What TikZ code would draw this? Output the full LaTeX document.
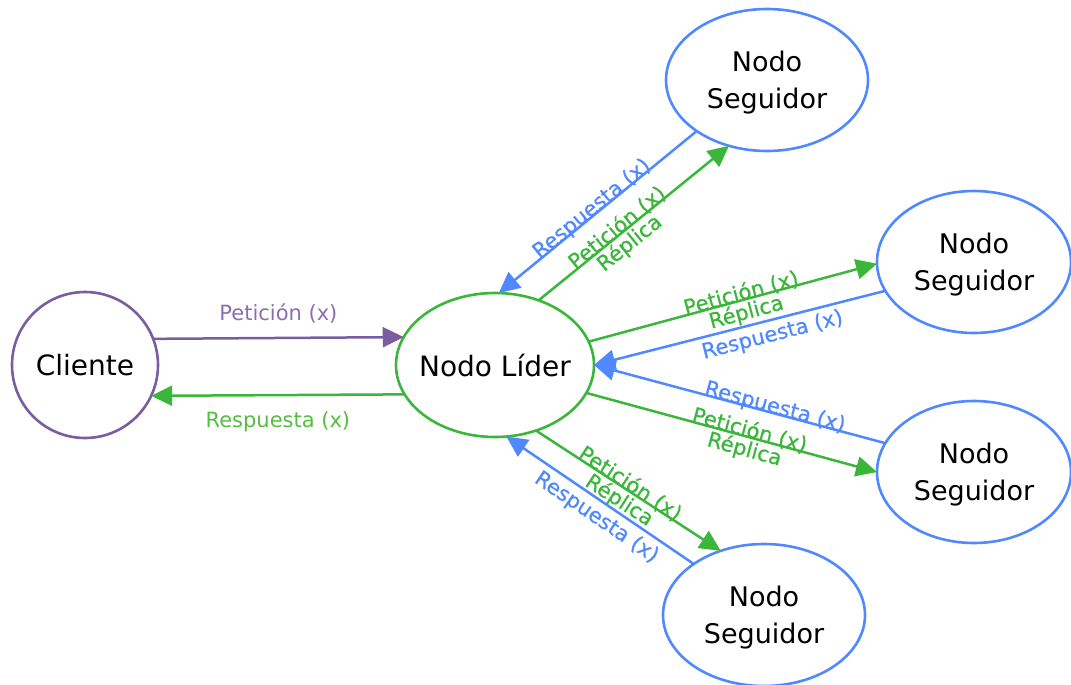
\documentclass[tikz,border=0pt]{standalone}
\usepackage{fontspec}
\setmainfont{DejaVu Sans}
\newfontfamily\slopedfont[FakeBold=0.6]{DejaVu Sans}
\usetikzlibrary{arrows.meta,shapes.geometric}

\definecolor{cpurple}{RGB}{122,92,160}
\definecolor{cpurpletxt}{RGB}{138,110,180}
\definecolor{cgreen}{RGB}{58,182,58}
\definecolor{cgreentxt}{RGB}{84,190,64}
\definecolor{cblue}{RGB}{80,137,255}

\tikzset{
  nodetext/.style={font=\fontsize{27}{37}\selectfont, text=black, align=center, inner sep=0pt, outer sep=0pt},
  client/.style={nodetext, font=\fontsize{28}{37}\selectfont, circle, draw=cpurple, line width=2.6pt, minimum size=146pt},
  leader/.style={nodetext, font=\fontsize{28}{37}\selectfont, ellipse, draw=cgreen, line width=2.6pt,
    minimum width=198pt, minimum height=144pt, inner xsep=-20pt},
  follower/.style={nodetext, ellipse, draw=cblue, line width=2.6pt, minimum height=142pt, text depth=0pt},
  link/.style={line width=2.5pt, -{Triangle[length=21pt,width=20pt]}},
  plink/.style={link, draw=cpurple},
  glink/.style={link, draw=cgreen},
  blink/.style={link, draw=cblue},
  lbl/.style={font=\fontsize{21}{24}\selectfont, inner sep=0pt},
  slbl/.style={font=\slopedfont\fontsize{21}{24}\selectfont, inner sep=0pt, sloped},
  % text sitting on the line / hanging under it
  ontop/.style={slbl, anchor=base},
  under/.style={slbl, anchor=north, inner ysep=#1},
  under/.default=1.5pt,
}

\begin{document}
\begin{tikzpicture}[x=1pt,y=-1pt]
\useasboundingbox (0,0) rectangle (1071,685);

% nodes
\node[client] (cli) at (85,365) {Cliente};
\node[leader] (ldr) at (495,365) {Nodo Líder};
\node[follower, minimum width=202pt] (f1) at (767,80) {Nodo\\Seguidor};
\node[follower, minimum width=194pt] (f2) at (974,262) {Nodo\\Seguidor};
\node[follower, minimum width=194pt] (f3) at (974,472) {Nodo\\Seguidor};
\node[follower, minimum width=202pt] (f4) at (764,615) {Nodo\\Seguidor};

% client <-> leader
\draw[plink] (cli.21.7) -- node[lbl, midway, above=13pt, text=cpurpletxt] (lp) {Petición (x)} (ldr.163.6);
\draw[glink] (ldr.198.4) -- node[lbl, midway, below=15pt, text=cgreentxt] (lr) {Respuesta (x)} (cli.335.7);

% follower 1 (top)
\draw[blink] (f1.216.6) -- node[ontop, pos=0.51, text=cblue] (r1) {Respuesta (x)} (ldr.87.6);
\draw[glink] (ldr.56.5)
  -- node[ontop, pos=0.435, text=cgreen] (p1) {Petición (x)}
     node[under, pos=0.435, text=cgreen] (q1) {Réplica} (f1.240.2);

% follower 2 (upper right)
\draw[glink] (ldr.14.5)
  -- node[ontop, pos=0.535, text=cgreen] (p2) {Petición (x)}
     node[under, pos=0.535, text=cgreen] (q2) {Réplica} (f2.181.8);
\draw[blink] (f2.198.1) -- node[under=4pt, pos=0.40, text=cblue] (r2) {Respuesta (x)} (ldr.0);

% follower 3 (lower right)
\draw[blink] (f3.162.5) -- node[ontop, pos=0.384, text=cblue] (r3) {Respuesta (x)} (ldr.0);
\draw[glink] (ldr.343.9)
  -- node[ontop, pos=0.556, text=cgreen] (p3) {Petición (x)}
     node[under, pos=0.556, text=cgreen] (q3) {Réplica} (f3.180);

% follower 4 (bottom)
\draw[glink] (ldr.302.3)
  -- node[ontop, pos=0.49, text=cgreen] (p4) {Petición (x)}
     node[under, pos=0.49, text=cgreen] (q4) {Réplica} (f4.124.1);
\draw[blink] (f4.144.2) -- node[under=5pt, pos=0.47, text=cblue] (r4) {Respuesta (x)} (ldr.279.1);
\end{tikzpicture}
\end{document}
